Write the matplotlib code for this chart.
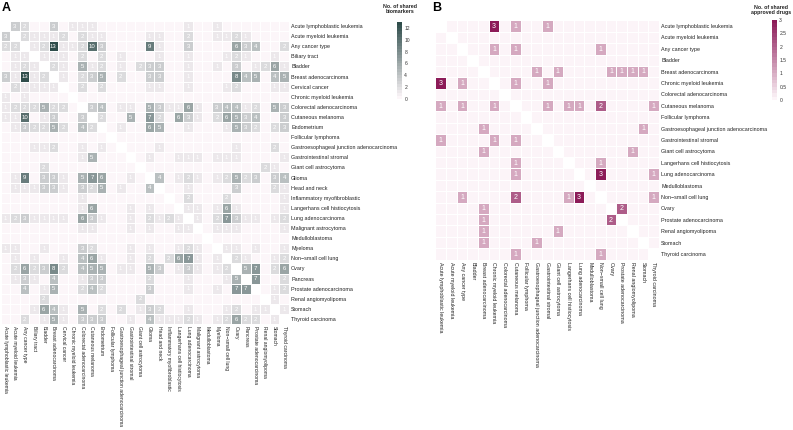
import numpy as np
import matplotlib
matplotlib.use("Agg")
import matplotlib.pyplot as plt
from matplotlib.colors import LinearSegmentedColormap

plt.rcParams['font.family'] = ['Liberation Sans', 'DejaVu Sans']

# ---------------- data ----------------
labels_a = [
    "Acute lymphoblastic leukemia", "Acute myeloid leukemia", "Any cancer type",
    "Biliary tract", "Bladder", "Breast adenocarcinoma", "Cervical cancer",
    "Chronic myeloid leukemia", "Colorectal adenocarcinoma", "Cutaneous melanoma",
    "Endometrium", "Follicular lymphoma", "Gastroesophageal junction adenocarcinoma",
    "Gastrointestinal stromal", "Giant cell astrocytoma", "Glioma", "Head and neck",
    "Inflammatory myofibroblastic", "Langerhans cell histiocytosis",
    "Lung adenocarcinoma", "Malignant astrocytoma", "Medulloblastoma", "Myeloma",
    "Non\u2212small cell lung", "Ovary", "Pancreas", "Prostate adenocarcinoma",
    "Renal angiomyolipoma", "Stomach", "Thyroid carcinoma",
]

shared_biomarkers = [
    [0,3,2,0,0,3,0,1,1,1, 0,0,0,0,0,0,0,0,0,1, 0,0,1,0,0,0,0,0,0,0],
    [3,0,2,1,1,1,2,0,2,1, 1,0,0,0,0,1,1,0,0,2, 0,0,1,1,2,1,0,0,0,0],
    [2,2,0,1,2,13,1,1,2,10, 3,0,0,0,0,9,1,0,0,3, 0,0,0,0,6,3,4,0,0,2],
    [0,1,1,0,1,1,1,0,2,0, 2,0,1,0,0,0,1,0,0,1, 0,0,0,1,2,1,0,0,1,0],
    [0,1,2,1,0,2,1,0,5,1, 2,0,1,0,2,3,3,0,0,1, 0,0,1,0,3,0,1,2,6,1],
    [3,1,13,1,2,0,1,0,2,3, 5,0,2,0,0,3,3,0,0,1, 0,0,0,0,8,4,5,0,4,5],
    [0,2,1,1,1,1,0,0,2,0, 2,0,0,0,0,1,1,0,0,1, 0,0,0,1,2,0,0,0,1,1],
    [1,0,1,0,0,0,0,0,0,0, 0,0,0,0,0,0,0,0,0,0, 0,0,0,0,0,0,0,0,0,0],
    [1,2,2,2,5,2,2,0,0,3, 4,0,1,1,0,5,3,1,1,6, 1,0,3,4,4,1,2,0,5,3],
    [1,1,10,0,1,3,0,0,3,0, 2,0,0,5,0,7,2,0,6,3, 1,0,2,6,5,3,4,0,0,3],
    [0,1,3,2,2,5,2,0,4,2, 0,0,1,0,0,6,5,0,0,1, 0,0,0,1,5,3,2,0,2,3],
    [0,0,0,0,0,0,0,0,0,0, 0,0,0,0,0,0,0,0,0,0, 0,0,0,0,0,0,0,0,0,0],
    [0,0,0,1,1,2,0,0,1,0, 1,0,0,0,0,0,1,0,0,0, 0,0,0,0,1,0,0,0,2,0],
    [0,0,0,0,0,0,0,0,1,5, 0,0,0,0,0,1,0,0,1,1, 1,0,1,1,1,0,0,0,0,1],
    [0,0,0,0,2,0,0,0,0,0, 0,0,0,0,0,0,0,0,0,0, 0,0,0,0,0,0,0,2,1,0],
    [0,1,9,0,3,3,1,0,5,7, 6,0,0,1,0,0,4,0,1,2, 1,0,1,2,5,2,3,0,3,4],
    [0,1,1,1,3,3,1,0,3,2, 5,0,1,0,0,4,0,0,0,1, 0,0,0,0,3,0,0,0,2,1],
    [0,0,0,0,0,0,0,0,1,0, 0,0,0,0,0,0,0,0,0,2, 0,0,0,2,0,0,0,0,0,1],
    [0,0,0,0,0,0,0,0,1,6, 0,0,0,1,0,1,0,0,0,1, 1,0,1,6,1,0,0,0,0,1],
    [1,2,3,1,1,1,1,0,6,3, 1,0,0,1,0,2,1,2,1,0, 1,0,2,7,3,1,1,0,1,2],
    [0,0,0,0,0,0,0,0,1,1, 0,0,0,1,0,1,0,0,1,1, 0,0,1,1,1,0,0,0,0,1],
    [0,0,0,0,0,0,0,0,0,0, 0,0,0,0,0,0,0,0,0,0, 0,0,0,0,0,0,0,0,0,0],
    [1,1,0,0,1,0,0,0,3,2, 0,0,0,1,0,1,0,0,1,2, 1,0,0,1,1,0,1,0,0,1],
    [0,1,0,1,0,0,1,0,4,6, 1,0,0,1,0,2,0,2,6,7, 1,0,1,0,2,1,0,0,1,2],
    [0,2,6,2,3,8,2,0,4,5, 5,0,1,1,0,5,3,0,1,3, 1,0,1,2,0,5,7,0,2,6],
    [0,1,3,1,0,4,0,0,1,3, 3,0,0,0,0,2,0,0,0,1, 0,0,0,1,5,0,7,0,0,2],
    [0,0,4,0,1,5,0,0,2,4, 2,0,0,0,0,3,0,0,0,1, 0,0,1,0,7,7,0,0,1,2],
    [0,0,0,0,2,0,0,0,0,0, 0,0,0,0,2,0,0,0,0,0, 0,0,0,0,0,0,0,0,1,0],
    [0,0,0,1,6,4,1,0,5,0, 2,0,2,0,1,3,2,0,0,1, 0,0,0,1,2,0,1,1,0,1],
    [0,0,2,0,1,5,1,0,3,3, 3,0,0,1,0,4,1,1,1,2, 1,0,1,2,6,2,2,0,1,0],
]

labels_b = [
    "Acute lymphoblastic leukemia", "Acute myeloid leukemia", "Any cancer type",
    "Bladder", "Breast adenocarcinoma", "Chronic myeloid leukemia",
    "Colorectal adenocarcinoma", "Cutaneous melanoma", "Follicular lymphoma",
    "Gastroesophageal junction adenocarcinoma", "Gastrointestinal stromal",
    "Giant cell astrocytoma", "Langerhans cell histiocytosis", "Lung adenocarcinoma",
    "Medulloblastoma", "Non\u2212small cell lung", "Ovary", "Prostate adenocarcinoma",
    "Renal angiomyolipoma", "Stomach", "Thyroid carcinoma",
]

shared_drugs = [
    [0,0,0,0,0,3,0,1,0,0, 1,0,0,0,0,0,0,0,0,0,0],
    [0,0,0,0,0,0,0,0,0,0, 0,0,0,0,0,0,0,0,0,0,0],
    [0,0,0,0,0,1,0,1,0,0, 0,0,0,0,0,1,0,0,0,0,0],
    [0,0,0,0,0,0,0,0,0,0, 0,0,0,0,0,0,0,0,0,0,0],
    [0,0,0,0,0,0,0,0,0,1, 0,1,0,0,0,0,1,1,1,1,0],
    [3,0,1,0,0,0,0,1,0,0, 1,0,0,0,0,0,0,0,0,0,0],
    [0,0,0,0,0,0,0,0,0,0, 0,0,0,0,0,0,0,0,0,0,0],
    [1,0,1,0,0,1,0,0,0,0, 1,0,1,1,0,2,0,0,0,0,1],
    [0,0,0,0,0,0,0,0,0,0, 0,0,0,0,0,0,0,0,0,0,0],
    [0,0,0,0,1,0,0,0,0,0, 0,0,0,0,0,0,0,0,0,1,0],
    [1,0,0,0,0,1,0,1,0,0, 0,0,0,0,0,0,0,0,0,0,0],
    [0,0,0,0,1,0,0,0,0,0, 0,0,0,0,0,0,0,0,1,0,0],
    [0,0,0,0,0,0,0,1,0,0, 0,0,0,0,0,1,0,0,0,0,0],
    [0,0,0,0,0,0,0,1,0,0, 0,0,0,0,0,3,0,0,0,0,1],
    [0,0,0,0,0,0,0,0,0,0, 0,0,0,0,0,0,0,0,0,0,0],
    [0,0,1,0,0,0,0,2,0,0, 0,0,1,3,0,0,0,0,0,0,1],
    [0,0,0,0,1,0,0,0,0,0, 0,0,0,0,0,0,0,2,0,0,0],
    [0,0,0,0,1,0,0,0,0,0, 0,0,0,0,0,0,2,0,0,0,0],
    [0,0,0,0,1,0,0,0,0,0, 0,1,0,0,0,0,0,0,0,0,0],
    [0,0,0,0,1,0,0,0,0,1, 0,0,0,0,0,0,0,0,0,0,0],
    [0,0,0,0,0,0,0,1,0,0, 0,0,0,0,0,1,0,0,0,0,0],
]

cbar_a_ticks = [0, 2, 4, 6, 8, 10, 12]
cbar_b_ticks = [0, 0.5, 1, 1.5, 2, 2.5, 3]
cbar_b_ticklabels = ["0", "0.5", "1", "1.5", "2", "2.5", "3"]

# ---------------- drawing ----------------
W, H = 793, 430
fig = plt.figure(figsize=(W / 100, H / 100), dpi=100)

def px_axes(x0, y0, x1, y1):
    return fig.add_axes([x0 / W, 1 - y1 / H, (x1 - x0) / W, (y1 - y0) / H])

cmap_a = LinearSegmentedColormap.from_list("a", ["#fcf6f9", "#2f4d4b"]).resampled(26)
cmap_b = LinearSegmentedColormap.from_list("b", ["#fcf4f8", "#8c1b58"]).resampled(24)

def heatmap(ax, mat, labels, cmap, vmax, fs_num, fs_ylab, fs_xlab):
    m = np.array(mat, dtype=float)
    n = m.shape[0]
    masked = np.ma.masked_where(np.eye(n, dtype=bool), m)
    mesh = ax.pcolormesh(np.arange(n + 1), np.arange(n + 1), masked, cmap=cmap,
                         vmin=0, vmax=vmax, edgecolors="white", linewidth=0.5)
    ax.set_xlim(0, n)
    ax.set_ylim(n, 0)
    ax.set_facecolor("white")
    for s in ax.spines.values():
        s.set_visible(False)
    for r in range(n):
        for c in range(n):
            if r != c and m[r, c] > 0:
                ax.text(c + 0.5, r + 0.52, f"{int(m[r, c])}", ha="center", va="center",
                        color="white", fontsize=fs_num)
    ax.yaxis.tick_right()
    ax.set_yticks(np.arange(n) + 0.5)
    ax.set_yticklabels(labels, fontsize=fs_ylab, color="#222222")
    ax.set_xticks(np.arange(n) + 0.5)
    ax.set_xticklabels(labels, fontsize=fs_xlab, rotation=270, ha="center", va="top",
                       color="#222222")
    ax.tick_params(length=0, pad=1.5)
    return mesh

ax_a = px_axes(0.5, 21, 289, 324)
mesh_a = heatmap(ax_a, shared_biomarkers, labels_a, cmap_a, 13, 4.3, 3.9, 3.6)

ax_b = px_axes(435.4, 20.3, 659, 259.7)
mesh_b = heatmap(ax_b, shared_drugs, labels_b, cmap_b, 3, 5.0, 3.9, 3.8)

# colorbars
cax_a = px_axes(397, 22, 401.5, 99)
cb_a = fig.colorbar(mesh_a, cax=cax_a, ticks=cbar_a_ticks)
cb_a.outline.set_visible(False)
cax_a.tick_params(length=0, labelsize=3.6, pad=2, colors="#333333")
fig.text(400 / W, 1 - 9 / H, "No. of shared\nbiomarkers", ha="center", va="center",
         fontsize=3.8, fontweight="bold", linespacing=1.1, color="#222222")

cax_b = px_axes(772, 20, 776.5, 100)
cb_b = fig.colorbar(mesh_b, cax=cax_b, ticks=cbar_b_ticks)
cb_b.outline.set_visible(False)
cb_b.ax.set_yticklabels(cbar_b_ticklabels)
cax_b.tick_params(length=0, labelsize=3.6, pad=2, colors="#333333")
fig.text(791 / W, 1 - 10 / H, "No. of shared\napproved drugs", ha="right", va="center",
         fontsize=3.8, fontweight="bold", linespacing=1.1, color="#222222",
         multialignment="center")

# panel letters
fig.text(2 / W, 1 - 8 / H, "A", fontsize=9, fontweight="bold", va="center", ha="left")
fig.text(432 / W, 1 - 8 / H, "B", fontsize=9, fontweight="bold", va="center", ha="left")

fig.savefig("out.png", dpi=100)
